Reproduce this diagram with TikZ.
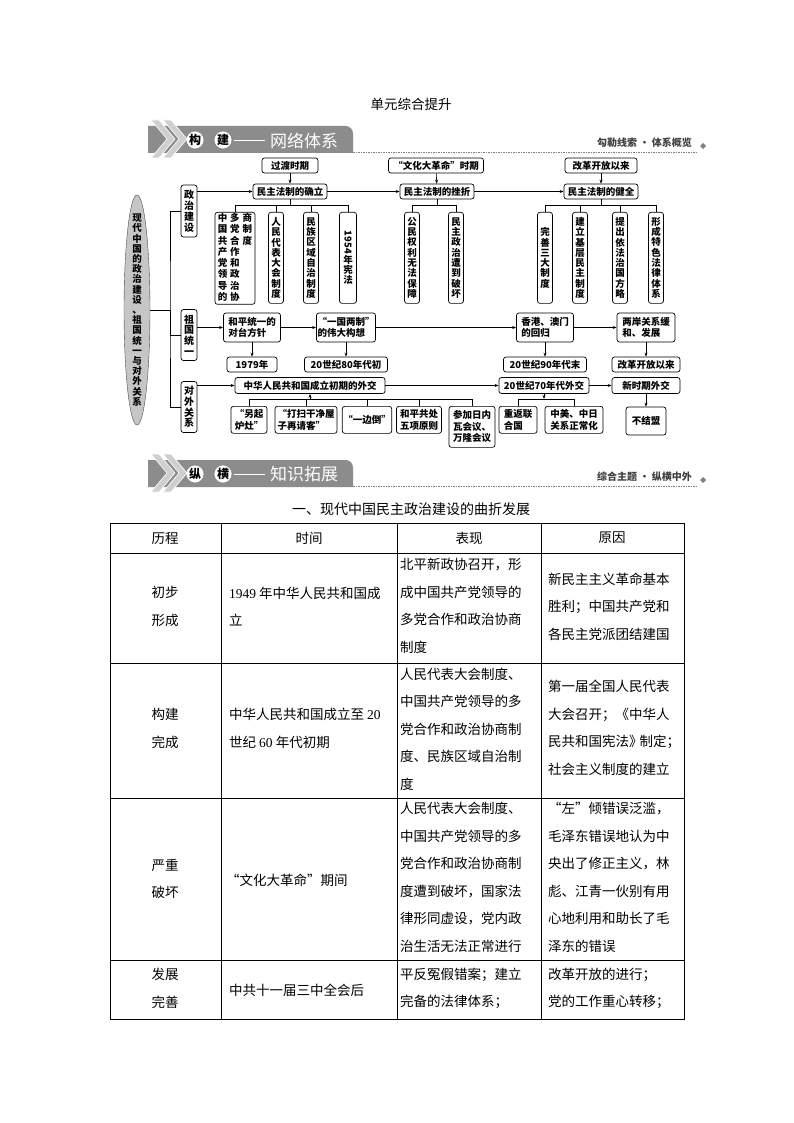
\documentclass[tikz,border=0pt]{standalone}
\usepackage{fontspec}
\setmainfont{Noto Sans CJK SC}
\newfontfamily\numfont{Liberation Serif}
\usepackage{graphicx}
\usetikzlibrary{arrows.meta, shapes.geometric}

\definecolor{bargray}{HTML}{8C8C8C}
\definecolor{chevgray}{HTML}{CFCFCF}
\definecolor{ovalgray}{HTML}{C6C6C6}

\tikzset{
  box/.style={draw, rounded corners=2.5pt, fill=white, line width=0.7pt, inner sep=1pt,
    align=left, font=\fontsize{9.5}{11.5}\selectfont\bfseries},
  vbox/.style={box, anchor=north, align=center, minimum height=91, minimum width=15,
    font=\fontsize{9.5}{10.3}\selectfont\bfseries},
  side/.style={box, align=center, minimum width=16, font=\fontsize{10}{10.8}\selectfont\bfseries},
  kid/.style={box, anchor=north, minimum height=27},
  link/.style={line width=0.6pt},
  arr/.style={link, -{Stealth[length=4pt, width=3pt]}},
  cell/.style={anchor=west, inner sep=0, align=left, font=\fontsize{13.5}{27.5}\selectfont},
  stage/.style={inner sep=0, align=center, font=\fontsize{13.5}{27.5}\selectfont},
  roundchar/.style={circle, draw=white, fill=white, text=black, inner sep=0, minimum size=16,
    font=\fontsize{12}{12}\selectfont\bfseries},
}

% #1 top of bar, #2 #3 round letters, #4 title, #5 right text, #6 name prefix
\newcommand{\banner}[6]{%
  \fill[bargray] (148,#1) -- (345,#1) .. controls (350,#1) and (353,#1+3) .. (353,#1+8)
    -- (353,#1+27) -- (148,#1+27) -- cycle;
  \foreach \dx in {0,12}
    \filldraw[chevgray, draw=white, line width=0.6pt] (151+\dx,#1-6) -- (159+\dx,#1-6)
      -- (175+\dx,#1+13) -- (159+\dx,#1+32) -- (151+\dx,#1+32) -- (167+\dx,#1+13) -- cycle;
  \node[roundchar] (#6a) at (195,#1+14) {#2};
  \node[roundchar] (#6b) at (223,#1+14) {#3};
  \draw[white, line width=1.2pt] (234,#1+14.5) -- (265,#1+14.5);
  \node[anchor=west, text=white, inner sep=0, font=\fontsize{17}{17}\selectfont] (#6t) at (270,#1+14.5) {#4};
  \draw[gray, dash pattern=on 1.5pt off 1pt, line width=0.5pt] (353,#1+26) -- (698,#1+26);
  \node[anchor=east, text=black!75, inner sep=0, font=\fontsize{10}{10}\selectfont\bfseries] (#6r) at (692,#1+17) {#5};
  \fill[gray] (703,#1+17) -- ++(3,3) -- ++(-3,3) -- ++(-3,-3) -- cycle;
}

\begin{document}
\begin{tikzpicture}[x=1pt, y=-1pt]
  \fill[white] (0,0) rectangle (794,1123);
  \useasboundingbox (0,0) rectangle (794,1123);

  % Heading
  \node[font=\fontsize{13.5}{13.5}\selectfont] (title) at (411,104) {单元综合提升};
  \banner{126}{构}{建}{网络体系}{勾勒线索 · 体系概览}{bn}

  % Root and branches
  \node[ellipse, draw=black!70, fill=ovalgray, minimum width=26, minimum height=230, inner sep=0] (root) at (137,310) {};
  \node[align=center, inner sep=0, font=\fontsize{9.5}{10.2}\selectfont\bfseries] (roottxt) at (root)
    {现\\代\\中\\国\\的\\政\\治\\建\\设\\、\\祖\\国\\统\\一\\与\\对\\外\\关\\系};
  \node[side, minimum height=52] (pol) at (189,211) {政\\治\\建\\设};
  \node[side, minimum height=51] (uni) at (189,335) {祖\\国\\统\\一};
  \node[side, minimum height=51] (dip) at (189,407) {对\\外\\关\\系};
  \coordinate (hub) at (170,310);
  \draw[link] (root.east) -- (hub);
  \draw[link] (pol.west) -| (hub) |- (dip.west);
  \draw[link] (hub) |- (uni.west);

  % Political construction
  \node[box, minimum width=56, minimum height=15] (trans) at (290,165.5) {过渡时期};
  \node[box, minimum width=95, minimum height=15] (cult) at (436,165.5) {“文化大革命”时期};
  \node[box, minimum width=72, minimum height=15] (reform) at (601,165.5) {改革开放以来};
  \node[box, minimum width=74, minimum height=15] (est) at (290,191.5) {民主法制的确立};
  \node[box, minimum width=74, minimum height=15] (twist) at (437,191.5) {民主法制的挫折};
  \node[box, minimum width=74, minimum height=15] (perf) at (601,191.5) {民主法制的健全};
  \draw[arr] (trans) -- (est);
  \draw[arr] (cult) -- (twist);
  \draw[arr] (reform) -- (perf);
  \draw[arr] (pol.east |- est) -- (est);
  \draw[arr] (est) -- (twist);
  \draw[arr] (twist) -- (perf);

  \node[vbox, minimum width=40] (cpc) at (235,212)
    {\begin{tabular}{@{}c@{\hspace{3pt}}c@{\hspace{3pt}}c@{}}
      中 & 多 & 商\\ 国 & 党 & 制\\ 共 & 合 & 度\\ 产 & 作 & \\
      党 & 和 & \\ 领 & 政 & \\ 导 & 治 & \\ 的 & 协 &
     \end{tabular}};
  \node[vbox] (npc) at (276,212) {人\\民\\代\\表\\大\\会\\制\\度};
  \node[vbox] (reg) at (311,212) {民\\族\\区\\域\\自\\治\\制\\度};
  \node[vbox, minimum width=17] (con) at (348,212) {\rotatebox{-90}{1954}\\年\\宪\\法};
  \node[vbox] (rts) at (412,212) {公\\民\\权\\利\\无\\法\\保\\障};
  \node[vbox] (dem) at (456,212) {民\\主\\政\\治\\遭\\到\\破\\坏};
  \node[vbox] (thr) at (545,212) {完\\善\\三\\大\\制\\度};
  \node[vbox] (gra) at (580,212) {建\\立\\基\\层\\民\\主\\制\\度};
  \node[vbox] (law) at (620,212) {提\\出\\依\\法\\治\\国\\方\\略};
  \node[vbox] (sys) at (656,212) {形\\成\\特\\色\\法\\律\\体\\系};

  \draw[link] (cpc.north) -- ++(0,-7) -| (con.north);
  \draw[link] (rts.north) -- ++(0,-7) -| (dem.north);
  \draw[link] (thr.north) -- ++(0,-7) -| (sys.north);
  \foreach \n in {npc,reg,gra,law}
    \draw[link] (\n.north |- 0,205) -- (\n.north);
  \foreach \n in {est,twist,perf}
    \draw[link] (\n.south) -- (\n.south |- 0,205);

  % Reunification
  \node[box, minimum width=57, minimum height=29] (peace) at (252,327.5) {和平统一的\\对台方针};
  \node[box, minimum width=57, minimum height=29] (octs) at (346,327.5) {“一国两制”\\的伟大构想};
  \node[box, minimum width=57, minimum height=29] (hkm) at (545,327.5) {香港、澳门\\的回归};
  \node[box, minimum width=58, minimum height=29] (cross) at (646,327.5) {两岸关系缓\\和、发展};
  \node[box, minimum width=50, minimum height=15] (y79) at (252,364.5) {1979年};
  \node[box, minimum width=83, minimum height=15] (y80) at (346,364.5) {20世纪80年代初};
  \node[box, minimum width=83, minimum height=15] (y90) at (545,364.5) {20世纪90年代末};
  \node[box, minimum width=68, minimum height=15] (since) at (646,364.5) {改革开放以来};
  \draw[arr] (uni.east |- peace) -- (peace);
  \draw[arr] (peace) -- (octs);
  \draw[arr] (octs) -- (hkm);
  \draw[arr] (hkm) -- (cross);
  \foreach \a/\b in {peace/y79, octs/y80, hkm/y90, cross/since}
    \draw[arr] (\a) -- (\b);

  % Foreign relations
  \node[box, minimum width=150, minimum height=16] (early) at (310,385.5) {中华人民共和国成立初期的外交};
  \node[box, minimum width=90, minimum height=16] (s70) at (544,385.5) {20世纪70年代外交};
  \node[box, minimum width=68, minimum height=16] (newera) at (646,385.5) {新时期外交};
  \node[box, minimum width=40, minimum height=28] (nonal) at (646,421) {不结盟};
  \node[kid, minimum width=36] (stove) at (249,406) {“另起\\炉灶”};
  \node[kid, minimum width=62] (clean) at (306,406) {“打扫干净屋\\子再请客”};
  \node[kid, minimum width=47] (lean) at (367,406) {“一边倒”};
  \node[kid, minimum width=45] (five) at (419,406) {和平共处\\五项原则};
  \node[kid, minimum width=46, minimum height=41] (conf) at (472,406) {参加日内\\瓦会议、\\万隆会议};
  \node[kid, minimum width=38] (un) at (518,406) {重返联\\合国};
  \node[kid, minimum width=58] (norm) at (574,406) {中美、中日\\关系正常化};
  \draw[arr] (dip.east |- early) -- (early);
  \draw[arr] (early) -- (s70);
  \draw[arr] (s70) -- (newera);
  \draw[arr] (newera) -- (nonal);
  \draw[link] (stove.north) -- ++(0,-7) -| (conf.north);
  \foreach \n in {clean,lean,five}
    \draw[link] (\n.north) -- (\n.north |- 0,399);
  \draw[arr] (early.south |- 0,399) -- (early.south);
  \draw[link] (un.north) -- ++(0,-7) -| (norm.north);
  \draw[arr] (s70.south) -- (s70.south |- 0,399);

  % Second heading
  \banner{460}{纵}{横}{知识拓展}{综合主题 · 纵横中外}{bk}
  \node[font=\fontsize{14}{14}\selectfont] (subtitle) at (411,509) {一、现代中国民主政治建设的曲折发展};

  % Table
  \draw[line width=0.9pt] (110,523) rectangle (684,1019);
  \foreach \y in {553,663,798,960}
    \draw[line width=0.9pt] (110,\y) -- (684,\y);
  \foreach \x in {221,397,541}
    \draw[line width=0.9pt] (\x,523) -- (\x,1019);

  \node[stage] (h1) at (165,538) {历程};
  \node[stage] (h2) at (309,538) {时间};
  \node[stage] (h3) at (469,538) {表现};
  \node[stage] (h4) at (612,538) {原因};

  \node[stage] (r1a) at (165,606.5) {初步\\形成};
  \node[cell] (r1b) at (229,606.5) {{\numfont 1949} 年中华人民共和国成\\立};
  \node[cell] (r1c) at (400,606) {北平新政协召开，形\\成中国共产党领导的\\多党合作和政治协商\\制度};
  \node[cell] (r1d) at (548,606.5) {新民主主义革命基本\\胜利；中国共产党和\\各民主党派团结建国};

  \node[stage] (r2a) at (165,728.5) {构建\\完成};
  \node[cell] (r2b) at (229,728.5) {中华人民共和国成立至 {\numfont 20}\\世纪 {\numfont 60} 年代初期};
  \node[cell] (r2c) at (400,729) {人民代表大会制度、\\中国共产党领导的多\\党合作和政治协商制\\度、民族区域自治制\\度};
  \node[cell] (r2d) at (548,728) {第一届全国人民代表\\大会召开；《中华人\\民共和国宪法》\kern-3pt制定；\\社会主义制度的建立};

  \node[stage] (r3a) at (165,879) {严重\\破坏};
  \node[cell] (r3b) at (226,880) {“文化大革命”期间};
  \node[cell] (r3c) at (400,877.5) {人民代表大会制度、\\中国共产党领导的多\\党合作和政治协商制\\度遭到破坏，国家法\\律形同虚设，党内政\\治生活无法正常进行};
  \node[cell] (r3d) at (548,877.5) {“左”倾错误泛滥，\\毛泽东错误地认为中\\央出了修正主义，林\\彪、江青一伙别有用\\心地利用和助长了毛\\泽东的错误};

  \node[stage] (r4a) at (165,988.5) {发展\\完善};
  \node[cell] (r4b) at (229,990) {中共十一届三中全会后};
  \node[cell] (r4c) at (400,988.5) {平反冤假错案；建立\\完备的法律体系；};
  \node[cell] (r4d) at (548,988.5) {改革开放的进行；\\党的工作重心转移；};
\end{tikzpicture}
\end{document}
